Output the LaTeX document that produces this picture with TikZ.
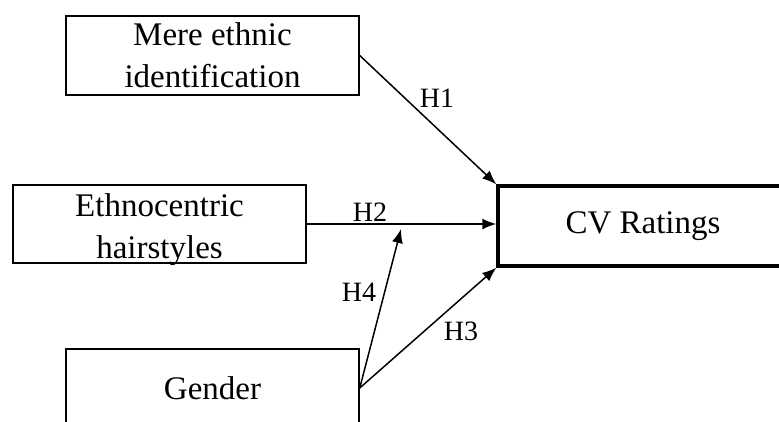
\documentclass[tikz,border=0pt]{standalone}
\usepackage{fontspec}
\setmainfont{Liberation Serif}
\usetikzlibrary{arrows.meta,calc}
\begin{document}
\begin{tikzpicture}[x=1pt,y=-1pt,
  varbox/.style={draw,line width=1.5pt,rectangle,inner sep=0pt,minimum width=293pt,
    align=center,font=\fontsize{33}{42}\selectfont},
  vartext/.style={inner sep=0pt,align=center,font=\fontsize{33}{42}\selectfont},
  outbox/.style={draw,line width=3.5pt,rectangle,inner sep=0pt,minimum width=290pt,minimum height=80pt,
    font=\fontsize{33}{42}\selectfont},
  conn/.style={line width=1.5pt,-{Latex[length=14pt,width=11pt]}},
  hlab/.style={font=\fontsize{28}{32}\selectfont,inner sep=0pt}]
\useasboundingbox (0,0) rectangle (779,421);
\clip (0,0) rectangle (779,421);
\node[varbox,minimum height=79pt] (m1) at (212.5,55.5) {Mere ethnic\\identification};
\node[varbox,minimum height=78pt] (m2) at (159.5,224) {};
\node[vartext] (m2t) at (159.5,230) {Ethnocentric\\hairstyles};
\node[varbox,minimum height=78pt] (g) at (212.5,388) {Gender};
\node[outbox] (cv) at (643,226) {CV Ratings};
\coordinate (h4tip) at (401,229);
\draw[conn] (m1.east) -- (cv.north west);
\draw[conn] (m2.east) -- (m2.east -| cv.west);
\draw[conn] (g.east) -- (cv.south west);
\draw[conn] (g.east) -- (h4tip);
\node[hlab] (l1) at (437,98) {H1};
\node[hlab] (l2) at (370,212) {H2};
\node[hlab] (l4) at (359,292) {H4};
\node[hlab] (l3) at (461,331) {H3};
\end{tikzpicture}
\end{document}
